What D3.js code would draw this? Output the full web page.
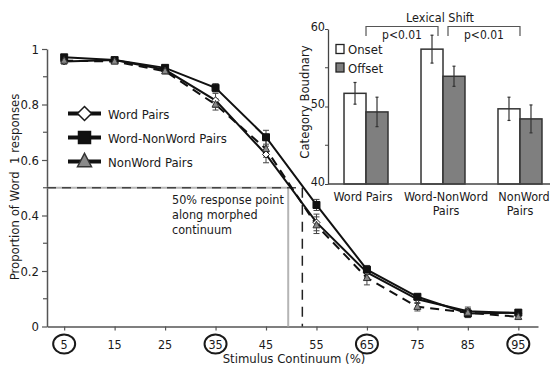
<!DOCTYPE html>
<html><head><meta charset="utf-8">
<script src="https://cdn.jsdelivr.net/npm/d3@7"></script>
<style>
html,body{margin:0;padding:0;background:#fff;}
svg{display:block;font-family:"DejaVu Sans Condensed","DejaVu Sans",sans-serif;}
</style></head>
<body>
<svg id="chart" width="550" height="366"></svg>
<script>
// ---- main chart data ----
const stimulus = [5, 15, 25, 35, 45, 55, 65, 75, 85, 95];
const circledTicks = [5, 35, 65, 95];
const seriesNames = ["Word Pairs", "Word-NonWord Pairs", "NonWord Pairs"];
const wordPairs      = [0.955, 0.960, 0.925, 0.815, 0.620, 0.375, 0.195, 0.098, 0.055, 0.048];
const wordNonWord    = [0.970, 0.960, 0.932, 0.860, 0.682, 0.438, 0.205, 0.107, 0.047, 0.050];
const nonWord        = [0.958, 0.955, 0.920, 0.800, 0.640, 0.365, 0.175, 0.071, 0.050, 0.035];
const wordPairsErr   = [0.010, 0.008, 0.010, 0.025, 0.030, 0.030, 0.020, 0.015, 0.015, 0.010];
const wordNonWordErr = [0.010, 0.008, 0.010, 0.015, 0.025, 0.020, 0.015, 0.010, 0.015, 0.010];
const nonWordErr     = [0.010, 0.008, 0.010, 0.020, 0.030, 0.030, 0.025, 0.015, 0.015, 0.010];
const yTicks = [0, 0.2, 0.4, 0.6, 0.8, 1];
const yMinorTicks = [0.1, 0.3, 0.5, 0.7, 0.9];
const fiftyPointWord = 49.4;     // 50% crossing (grey solid)
const fiftyPointNonWord = 52.2;  // 50% crossing (dashed)

// ---- inset bar chart data ----
const groups = ["Word Pairs", "Word-NonWord Pairs", "NonWord Pairs"];
const groupLabels = [["Word Pairs"], ["Word-NonWord", "Pairs"], ["NonWord", "Pairs"]];
const conditions = ["Onset", "Offset"];
const onsetVals  = [51.7, 57.4, 49.7];
const offsetVals = [49.3, 53.9, 48.4];
const onsetErr   = [1.4, 1.8, 1.5];
const offsetErr  = [1.9, 1.3, 1.8];
const insetTicks = [40, 50, 60];
const insetMinor = [45, 55];

const svg = d3.select("#chart");
const ink = "#1a1a1a";

// ================= MAIN CHART =================
const x = d3.scaleLinear().domain([1.6, 98.9]).range([47, 538]);
const y = d3.scaleLinear().domain([0, 1]).range([326.5, 49]);

// axes
const gx = svg.append("g").attr("transform", `translate(0,${y(0)})`)
  .call(d3.axisBottom(x).tickValues(stimulus).tickSize(4).tickSizeOuter(0).tickFormat(""));
gx.select(".domain").attr("stroke", "#555").attr("stroke-width", 1.5);
gx.selectAll(".tick line").attr("stroke", "#555").attr("stroke-width", 1.2);

const gy = svg.append("g").attr("transform", `translate(${x(1.6)},0)`)
  .call(d3.axisLeft(y).tickValues(yTicks).tickSize(5).tickSizeOuter(0).tickFormat(d => d === 0 ? "0" : d === 1 ? "1" : d3.format(".1f")(d)));
gy.select(".domain").attr("stroke", "#555").attr("stroke-width", 1.5);
gy.selectAll(".tick line").attr("stroke", "#555").attr("stroke-width", 1.2);
gy.selectAll(".tick text").attr("font-size", 13).attr("fill", ink).attr("x", -8)
  .attr("font-family", "'DejaVu Sans Condensed','DejaVu Sans',sans-serif");
svg.append("g").selectAll("line").data(yMinorTicks).join("line")
  .attr("x1", x(1.6) - 4).attr("x2", x(1.6)).attr("y1", d => y(d)).attr("y2", d => y(d))
  .attr("stroke", "#555").attr("stroke-width", 1.2);

// x tick labels with circles
const xl = svg.append("g");
xl.selectAll("ellipse").data(circledTicks).join("ellipse")
  .attr("cx", d => x(d)).attr("cy", 344).attr("rx", 11).attr("ry", 9.5)
  .attr("fill", "none").attr("stroke", ink).attr("stroke-width", 2);
xl.selectAll("text").data(stimulus).join("text")
  .attr("x", d => x(d)).attr("y", 348.5).attr("text-anchor", "middle")
  .attr("font-size", 12.5).attr("fill", ink).text(d => d);

// axis titles
svg.append("text").attr("x", 294).attr("y", 363).attr("text-anchor", "middle")
  .attr("font-size", 13).attr("fill", ink).text("Stimulus Continuum (%)");
svg.append("text").attr("transform", "translate(19,187) rotate(-90)").attr("text-anchor", "middle")
  .attr("font-size", 13).attr("fill", ink).attr("xml:space", "preserve").text("Proportion of Word  1 responses");

// 50% reference lines
svg.append("line").attr("x1", x(1.6)).attr("x2", x(fiftyPointWord)).attr("y1", y(0.5)).attr("y2", y(0.5))
  .attr("stroke", "#b5b5b5").attr("stroke-width", 2);
svg.append("line").attr("x1", x(fiftyPointWord)).attr("x2", x(fiftyPointWord)).attr("y1", y(0.5)).attr("y2", y(0))
  .attr("stroke", "#b5b5b5").attr("stroke-width", 2);
svg.append("line").attr("x1", x(1.6)).attr("x2", x(fiftyPointNonWord)).attr("y1", y(0.5)).attr("y2", y(0.5))
  .attr("stroke", "#444").attr("stroke-width", 1.5).attr("stroke-dasharray", "9,6");
svg.append("line").attr("x1", x(fiftyPointNonWord)).attr("x2", x(fiftyPointNonWord)).attr("y1", y(0.5)).attr("y2", y(0))
  .attr("stroke", "#222").attr("stroke-width", 1.5).attr("stroke-dasharray", "10,7");

// annotation
const ann = svg.append("text").attr("x", 172).attr("y", 203.5).attr("font-size", 12.5).attr("fill", ink);
["50% response point", "along morphed", "continuum"].forEach((t, i) =>
  ann.append("tspan").attr("x", 172).attr("dy", i === 0 ? 0 : 15).text(t));

// series
const series = [
  {name: seriesNames[0], vals: wordPairs, err: wordPairsErr, dash: null, marker: "diamond"},
  {name: seriesNames[1], vals: wordNonWord, err: wordNonWordErr, dash: null, marker: "square"},
  {name: seriesNames[2], vals: nonWord, err: nonWordErr, dash: "9,6", marker: "triangle"}
];
const line = d3.line().x((d, i) => x(stimulus[i])).y(d => y(d));

function markerPath(type, s) {
  if (type === "diamond") return `M0,${-s}L${s},0L0,${s}L${-s},0Z`;
  if (type === "square") return `M${-s},${-s}H${s}V${s}H${-s}Z`;
  return `M0,${-s * 1.15}L${s},${s * 0.75}L${-s},${s * 0.75}Z`;
}
function markerStyle(sel, type) {
  if (type === "diamond") sel.attr("fill", "#fff").attr("stroke", ink);
  else if (type === "square") sel.attr("fill", "#111").attr("stroke", "#111");
  else sel.attr("fill", "#8a8a8a").attr("stroke", "#333");
}

// error bars
series.forEach(s => {
  const g = svg.append("g").attr("stroke", "#444").attr("stroke-width", 1);
  s.vals.forEach((v, i) => {
    const cx = x(stimulus[i]);
    g.append("line").attr("x1", cx).attr("x2", cx).attr("y1", y(v + s.err[i])).attr("y2", y(v - s.err[i]));
    g.append("line").attr("x1", cx - 3).attr("x2", cx + 3).attr("y1", y(v + s.err[i])).attr("y2", y(v + s.err[i]));
    g.append("line").attr("x1", cx - 3).attr("x2", cx + 3).attr("y1", y(v - s.err[i])).attr("y2", y(v - s.err[i]));
  });
});
// lines (dashed first so solid lines on top)
[series[2], series[0], series[1]].forEach(s => {
  svg.append("path").attr("d", line(s.vals)).attr("fill", "none").attr("stroke", "#111")
    .attr("stroke-width", 2).attr("stroke-dasharray", s.dash);
});
series.forEach(s => {
  svg.append("g").selectAll("path").data(s.vals).join("path")
    .attr("transform", (d, i) => `translate(${x(stimulus[i])},${y(d)})`)
    .attr("d", markerPath(s.marker, 3.5)).attr("stroke-width", 1)
    .call(markerStyle, s.marker);
});

// main legend
const legRows = [113.5, 137.5, 161.5];
series.forEach((s, i) => {
  const g = svg.append("g").attr("transform", `translate(0,${legRows[i]})`);
  g.append("line").attr("x1", 68).attr("x2", 101).attr("y1", 0).attr("y2", 0)
    .attr("stroke", "#111").attr("stroke-width", 4);
  g.append("path").attr("transform", "translate(84.5,0)")
    .attr("d", markerPath(s.marker, s.marker === "square" ? 6 : 7))
    .attr("stroke-width", 1.5).call(markerStyle, s.marker);
  g.append("text").attr("x", 108).attr("y", 5).attr("font-size", 13).attr("fill", ink).text(s.name);
});

// ================= INSET BAR CHART =================
const ix = d3.scaleBand().domain(groups).range([328, 558]).paddingInner(0.4286).paddingOuter(0.208);
const isub = d3.scaleBand().domain(conditions).range([0, ix.bandwidth()]);
const iy = d3.scaleLinear().domain([40, 60]).range([184, 29]);

const barData = [];
groups.forEach((g, i) => {
  barData.push({g, c: "Onset", v: onsetVals[i], e: onsetErr[i]});
  barData.push({g, c: "Offset", v: offsetVals[i], e: offsetErr[i]});
});
svg.append("g").selectAll("rect").data(barData).join("rect")
  .attr("x", d => ix(d.g) + isub(d.c)).attr("width", isub.bandwidth())
  .attr("y", d => iy(d.v)).attr("height", d => iy(40) - iy(d.v))
  .attr("fill", d => d.c === "Onset" ? "#fff" : "#7f7f7f")
  .attr("stroke", "#333").attr("stroke-width", 1.5);
const ie = svg.append("g").attr("stroke", "#333").attr("stroke-width", 1.2);
barData.forEach(d => {
  const cx = ix(d.g) + isub(d.c) + isub.bandwidth() / 2;
  ie.append("line").attr("x1", cx).attr("x2", cx).attr("y1", iy(d.v + d.e)).attr("y2", iy(d.v - d.e));
  ie.append("line").attr("x1", cx - 1.5).attr("x2", cx + 1.5).attr("y1", iy(d.v + d.e)).attr("y2", iy(d.v + d.e));
  ie.append("line").attr("x1", cx - 1.5).attr("x2", cx + 1.5).attr("y1", iy(d.v - d.e)).attr("y2", iy(d.v - d.e));
});

// inset axes
const iya = svg.append("g").attr("transform", "translate(328,0)")
  .call(d3.axisLeft(iy).tickValues(insetTicks).tickSize(3).tickSizeOuter(0).tickFormat(d3.format("d")));
iya.select(".domain").attr("stroke", "#444").attr("stroke-width", 1.3);
iya.selectAll(".tick line").attr("stroke", "#444");
iya.selectAll(".tick text").attr("font-size", 12.5).attr("fill", ink).attr("x", -3).attr("dy", "0.1em")
  .attr("font-family", "'DejaVu Sans Condensed','DejaVu Sans',sans-serif");
svg.append("g").selectAll("line").data(insetMinor).join("line")
  .attr("x1", 325).attr("x2", 328).attr("y1", d => iy(d)).attr("y2", d => iy(d)).attr("stroke", "#444");
svg.append("line").attr("x1", 328).attr("x2", 550).attr("y1", iy(40)).attr("y2", iy(40))
  .attr("stroke", "#444").attr("stroke-width", 1.3);

// group labels
groups.forEach((g, i) => {
  const t = svg.append("text").attr("text-anchor", "middle").attr("font-size", 12.5).attr("fill", ink)
    .attr("y", 201);
  const cx = ix(g) + ix.bandwidth() / 2 + (i === 0 ? -3 : i === 2 ? 4 : 3);
  groupLabels[i].forEach((line, k) => t.append("tspan").attr("x", k === 0 ? cx : ix(g) + ix.bandwidth() / 2 + (i === 2 ? 0 : 3)).attr("dy", k === 0 ? 0 : 14).text(line));
});

// inset y title
svg.append("text").attr("transform", "translate(309,102) rotate(-90)").attr("text-anchor", "middle")
  .attr("font-size", 13).attr("fill", ink).text("Category Boudnary");

// inset legend
conditions.forEach((c, i) => {
  const yy = [49, 67.5][i];
  svg.append("rect").attr("x", 336).attr("y", yy - 4.5).attr("width", 8).attr("height", 9)
    .attr("fill", c === "Onset" ? "#fff" : "#7f7f7f").attr("stroke", "#222").attr("stroke-width", 1.3);
  svg.append("text").attr("x", 348).attr("y", yy + 5).attr("font-size", 13).attr("fill", ink).text(c);
});

// Lexical shift brackets
const c0 = ix(groups[0]) + ix.bandwidth() / 2;
const c1 = ix(groups[1]) + ix.bandwidth() / 2;
const c2 = ix(groups[2]) + ix.bandwidth() / 2;
const br = svg.append("g").attr("stroke", "#555").attr("stroke-width", 1.2).attr("fill", "none");
br.append("path").attr("d", `M${c0},36V26.5H${c1 - 5}V36`);
br.append("path").attr("d", `M${c1 + 5},36V26.5H${c2}V36`);
svg.append("text").attr("x", 440).attr("y", 22).attr("text-anchor", "middle").attr("font-size", 12.5)
  .attr("fill", ink).text("Lexical Shift");
svg.append("text").attr("x", (c0 + c1 - 5) / 2).attr("y", 39).attr("text-anchor", "middle").attr("font-size", 12)
  .attr("fill", ink).text("p<0.01");
svg.append("text").attr("x", (c1 + 5 + c2) / 2).attr("y", 39).attr("text-anchor", "middle").attr("font-size", 12)
  .attr("fill", ink).text("p<0.01");
</script>
</body></html>
